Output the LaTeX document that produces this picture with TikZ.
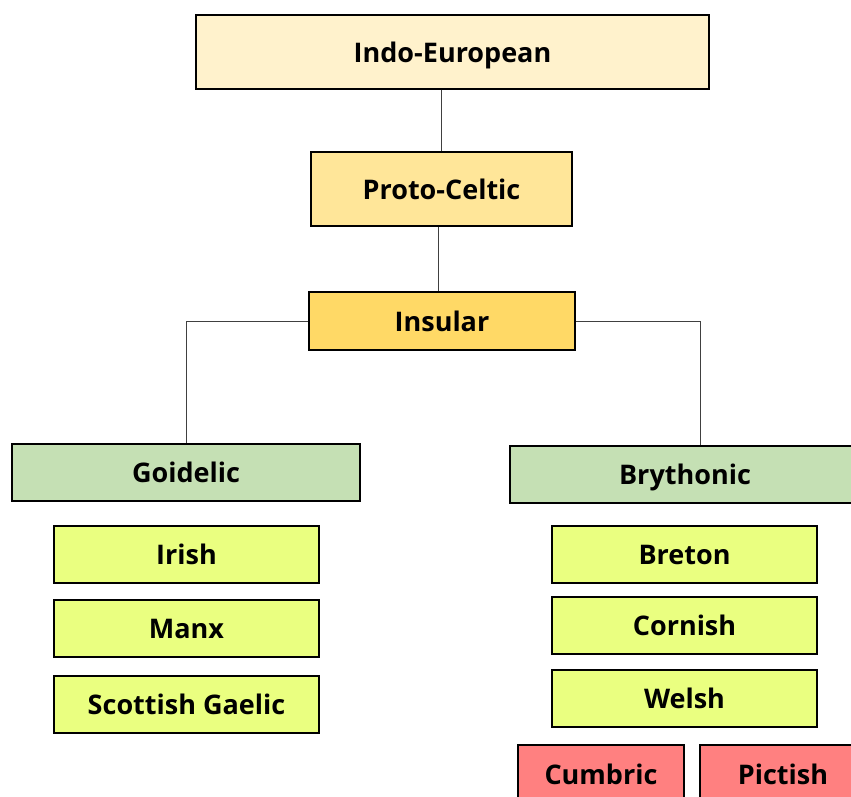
\documentclass[tikz,border=0pt]{standalone}
\usepackage{fontspec}
\setmainfont{Open Sans}
\usepackage{tikz}
\usetikzlibrary{positioning, calc}
\usepackage{xcolor}

\definecolor{ieCream}{HTML}{FFF2CC}
\definecolor{pcGold}{HTML}{FFE699}
\definecolor{insGold}{HTML}{FFD966}
\definecolor{brGreen}{HTML}{C5E0B4}
\definecolor{langLime}{HTML}{EAFF80}
\definecolor{lostRed}{HTML}{FF8080}

\begin{document}
\begin{tikzpicture}[x=1pt, y=-1pt,
    lang/.style={draw=black, line width=1.2pt, rectangle, inner sep=0pt,
        text depth=0pt, font=\fontsize{27}{30}\selectfont\bfseries, text=black},
    link/.style={draw=black!75, line width=0.9pt}]

            % Khung hình
            \clip (0,0) rectangle (851,796);
            \useasboundingbox (0,0) rectangle (851,796);

            % Vẽ các nút gốc
            \node[lang, fill=ieCream, minimum width=513pt, minimum height=74pt] (indo) at (452.5,52) {Indo-European};
            \node[lang, fill=pcGold, minimum width=261pt, minimum height=74pt] (proto) at (441.5,189) {Proto-Celtic};
            \node[lang, fill=insGold, minimum width=266pt, minimum height=58pt] (insular) at (442,321) {Insular};

            % Vẽ hai nhánh
            \node[lang, fill=brGreen, minimum width=348pt, minimum height=57pt] (goidelic) at (186,472.5) {Goidelic};
            \node[lang, fill=brGreen, minimum width=350pt, minimum height=57pt] (brythonic) at (685,474.5) {Brythonic};

            % Vẽ các ngôn ngữ
            \node[lang, fill=langLime, minimum width=265pt, minimum height=57pt] (irish) at (186.5,554.5) {Irish};
            \node[lang, fill=langLime, minimum width=265pt, minimum height=57pt] (manx) at (186.5,628.5) {Manx};
            \node[lang, fill=langLime, minimum width=265pt, minimum height=57pt] (gaelic) at (186.5,704.5) {Scottish Gaelic};
            \node[lang, fill=langLime, minimum width=265pt, minimum height=57pt] (breton) at (684.5,554.5) {Breton};
            \node[lang, fill=langLime, minimum width=265pt, minimum height=57pt] (cornish) at (684.5,625.5) {Cornish};
            \node[lang, fill=langLime, minimum width=265pt, minimum height=57pt] (welsh) at (684.5,698.5) {Welsh};
            \node[lang, fill=lostRed, minimum width=166pt, minimum height=58pt] (cumbric) at (601,774) {Cumbric};
            \node[lang, fill=lostRed, minimum width=166pt, minimum height=58pt] (pictish) at (783,774) {Pictish};

            % Vẽ các đường nối
            \draw[link] (proto.north |- indo.south) -- (proto.north);
            \draw[link] (insular.north -| 438,0) -- (proto.south -| 438,0);
            \draw[link] (insular.west) -| (goidelic.north);
            \coordinate (brTop) at ([xshift=15pt]brythonic.north);
            \draw[link] (insular.east) -| (brTop);

            \end{tikzpicture}
\end{document}
